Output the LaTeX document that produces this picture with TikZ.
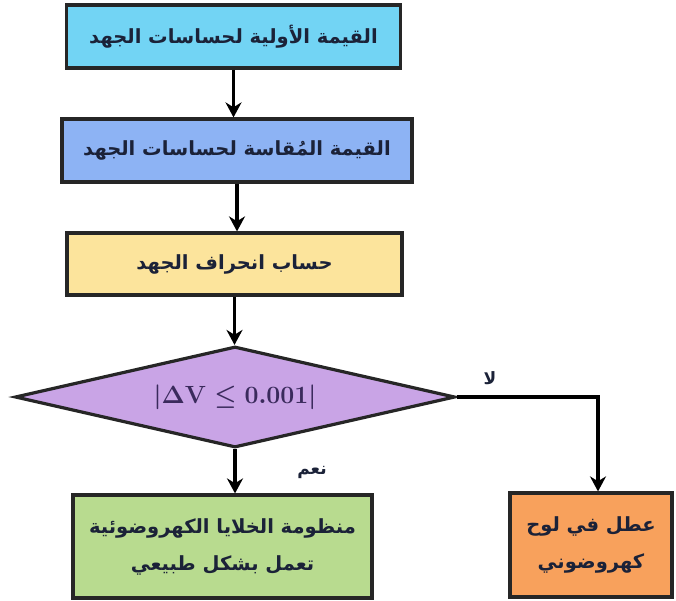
\documentclass[tikz,border=0pt]{standalone}
\usepackage{fontspec}
\usepackage{amsmath}
\usetikzlibrary{shapes.geometric,arrows.meta}
\TeXXeTstate=1
\newfontfamily\arabicfont[Script=Arabic]{DejaVu Sans}
\definecolor{txt}{HTML}{1B2238}
\definecolor{dtxt}{HTML}{3A2A5C}
\definecolor{cA}{HTML}{72D4F4}
\definecolor{cB}{HTML}{8DB3F4}
\definecolor{cC}{HTML}{FCE49C}
\definecolor{cD}{HTML}{C9A4E6}
\definecolor{cE}{HTML}{B8DB8F}
\definecolor{cF}{HTML}{F8A15C}
\begin{document}
\begin{tikzpicture}[x=1pt,y=-1pt,
  boxst/.style={draw=black!85, line width=3.2pt, text=txt, inner sep=0pt, align=center,
    font=\arabicfont\bfseries\fontsize{19.5}{37}\selectfont},
  arr/.style={line width=3.2pt, -{Stealth[length=15pt,width=16pt]}},
  lbl/.style={text=txt, font=\arabicfont\bfseries\fontsize{17}{20}\selectfont}]
\useasboundingbox (0,0) rectangle (676,600);
\node[boxst, fill=cA, minimum width=334pt, minimum height=63pt] (b1) at (233.5,36.5)
  {\beginR القيمة الأولية لحساسات الجهد\endR};
\node[boxst, fill=cB, minimum width=350pt, minimum height=63pt] (b2) at (237,150.5)
  {\beginR القيمة المُقاسة لحساسات الجهد\endR};
\node[boxst, fill=cC, minimum width=335pt, minimum height=62pt] (b3) at (234.5,264)
  {\beginR حساب انحراف الجهد\endR};
\node[draw=black!85, line width=3.2pt, shape=diamond, fill=cD, aspect=4.36,
  minimum width=440pt, minimum height=101pt, inner sep=0pt, text=dtxt,
  font=\fontsize{26}{30}\selectfont\boldmath] (d) at (235,397)
  {$\vert\Delta\mathbf{V} \le \mathbf{0.001}\vert$};
\node[boxst, fill=cE, minimum width=299pt, minimum height=103pt] (g) at (222.5,546.5)
  {\beginR منظومة الخلايا الكهروضوئية\endR\\ \beginR تعمل بشكل طبيعي\endR};
\node[boxst, fill=cF, minimum width=162pt, minimum height=104pt] (o) at (591,545)
  {\beginR عطل في لوح\endR\\ \beginR كهروضوني\endR};
\coordinate (turn) at (598,397);
\draw[arr] (b1.south) -- (b1.south |- b2.north);
\draw[arr] (b2.south) -- (b2.south |- b3.north);
\draw[arr] (b3.south) -- (b3.south |- d.north);
\draw[arr] (d.south) -- (d.south |- g.north);
\draw[arr] (d.east) -- (turn) -- (turn |- o.north);
\node[lbl] (no) at (490,378) {\beginR لا\endR};
\node[lbl] (yes) at (312,472) {\beginR نعم\endR};
\end{tikzpicture}
\end{document}
